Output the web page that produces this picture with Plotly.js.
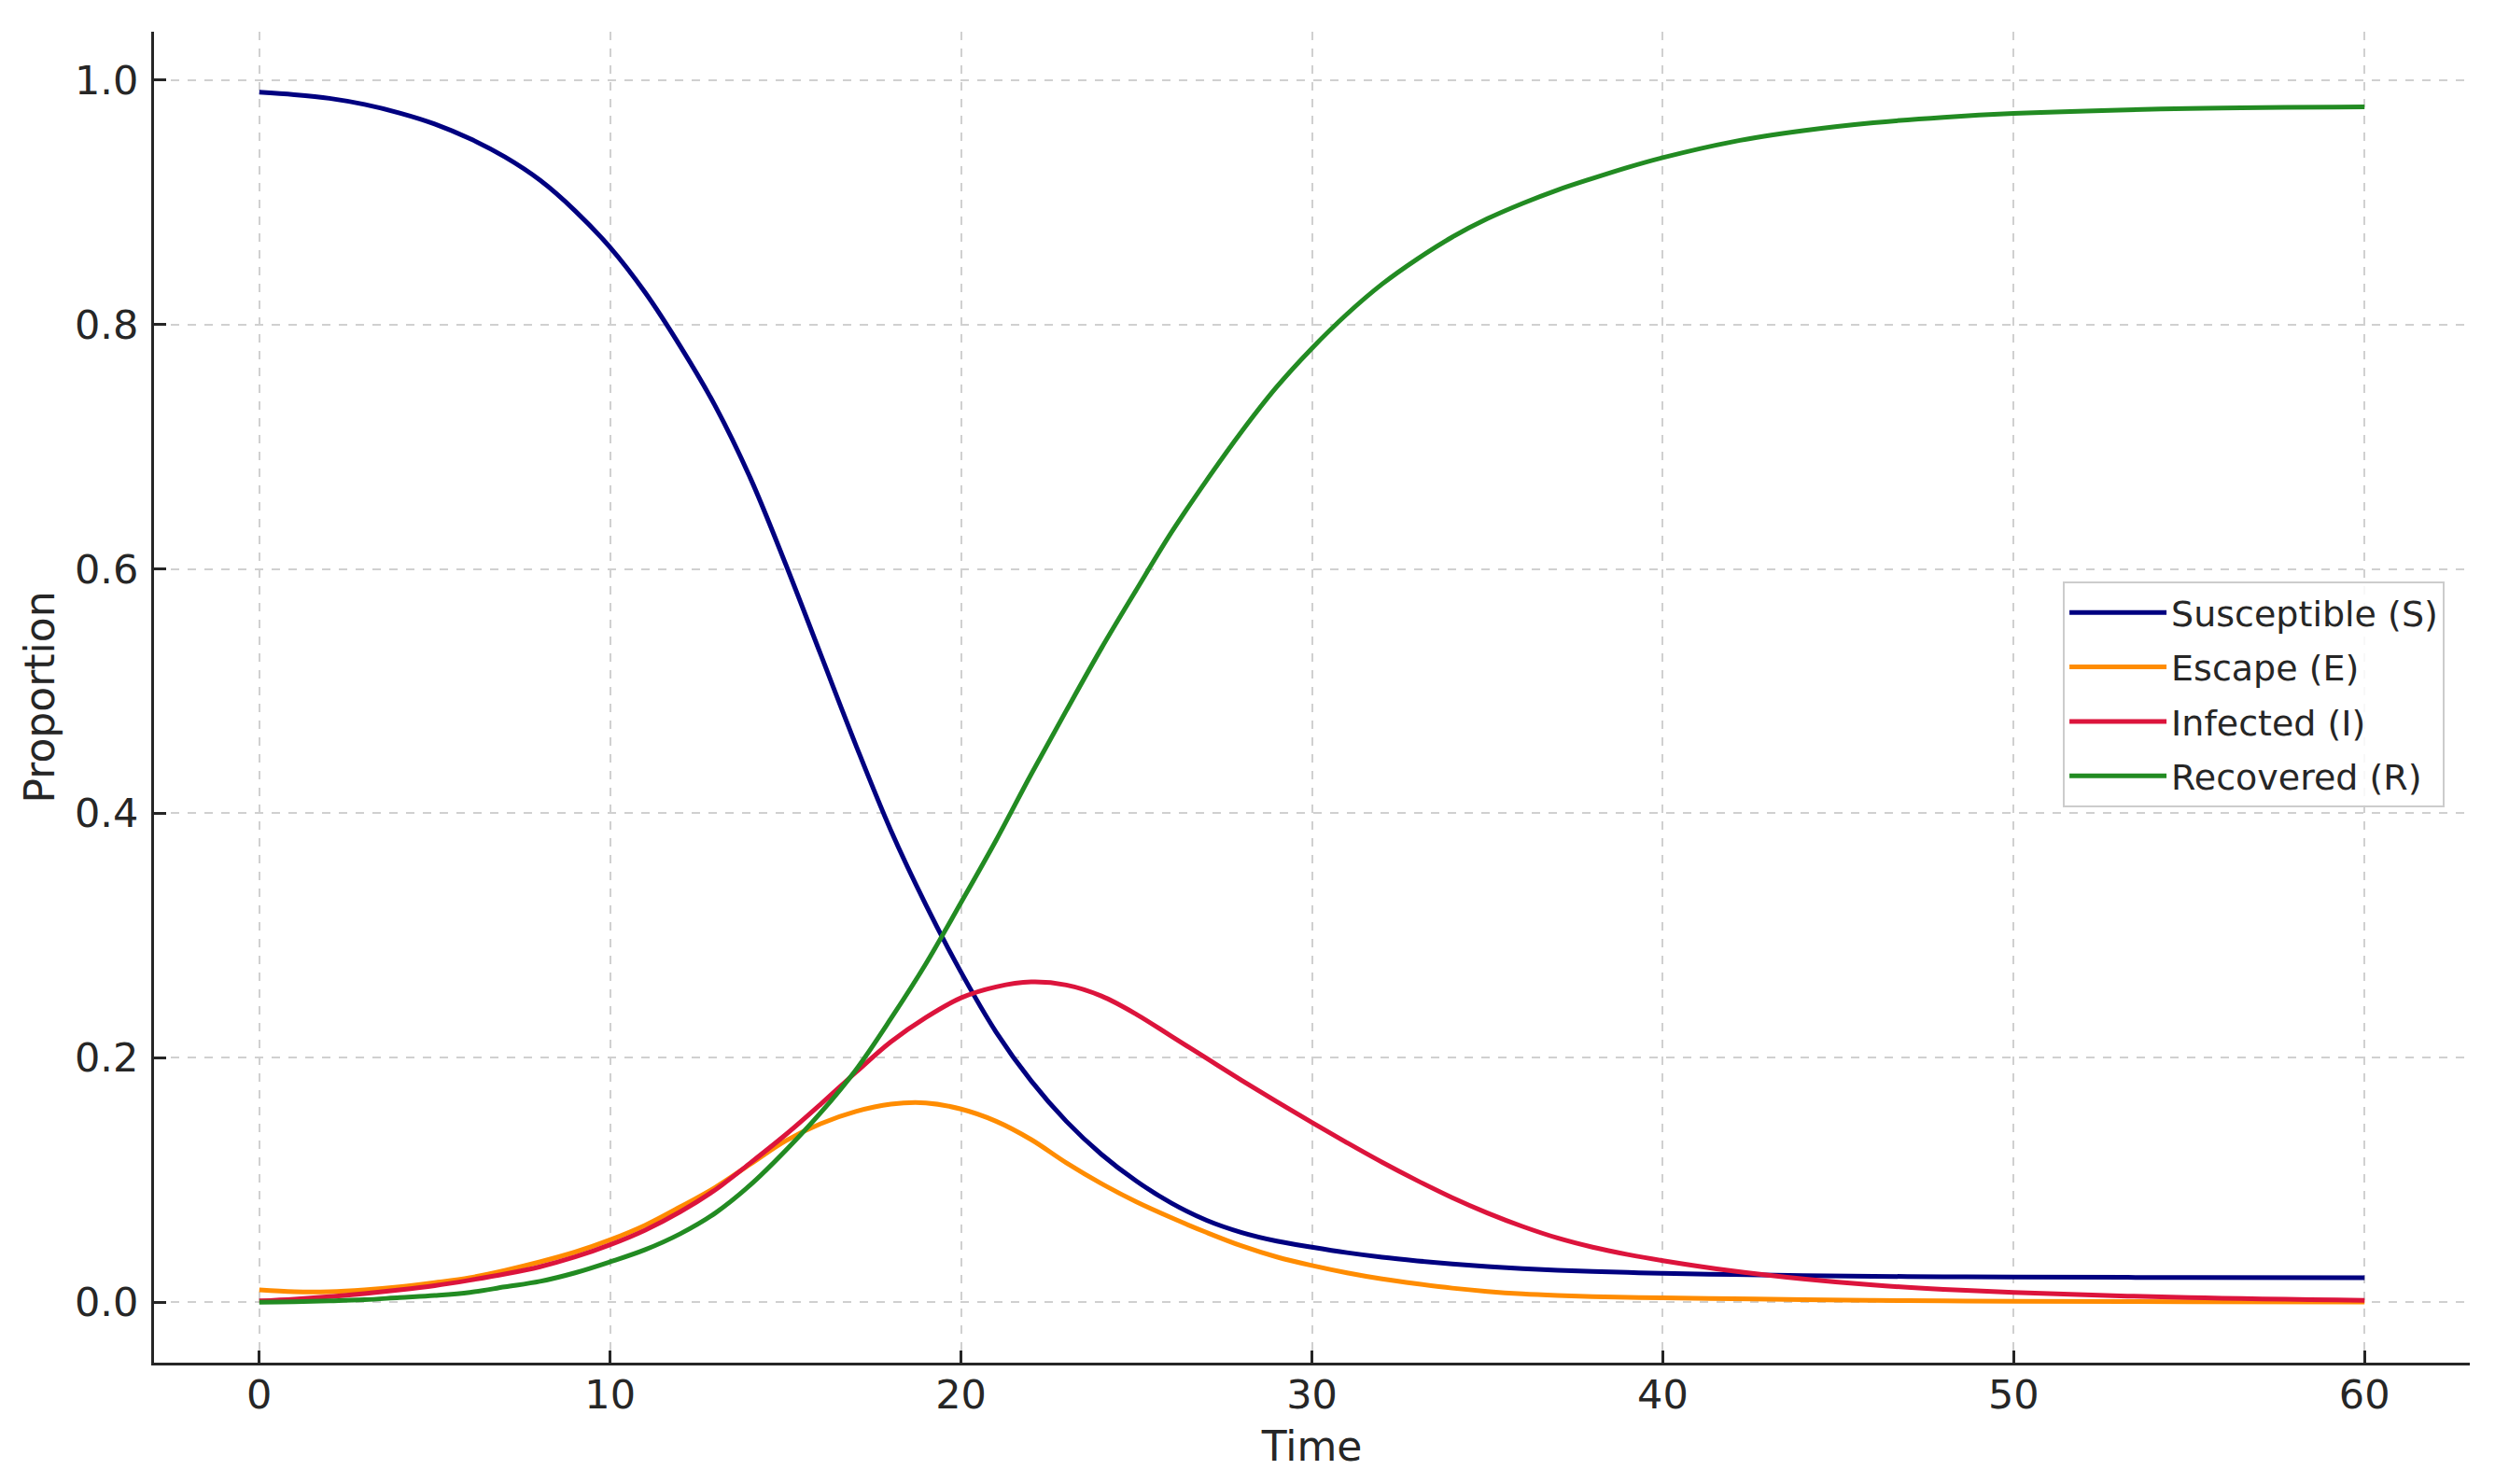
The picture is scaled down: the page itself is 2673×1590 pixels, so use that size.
<!DOCTYPE html>
<html>
<head>
<meta charset="utf-8">
<script src="https://cdn.plot.ly/plotly-3.0.1.min.js"></script>
<style>html,body{margin:0;padding:0;background:#fff;}#chart{width:2673px;height:1590px;}</style>
</head>
<body>
<div id="chart"></div>
<script>
const time = [0,1,2,3,4,5,6,7,8,9,10,11,12,13,14,15,16,17,18,19,20,21,22,23,24,25,26,27,28,29,30,31,32,33,34,35,36,37,38,39,40,42,44,46,48,50,55,60];
const susceptible = [0.990,0.988,0.985,0.980,0.973,0.964,0.952,0.937,0.918,0.893,0.863,0.826,0.782,0.733,0.674,0.604,0.530,0.456,0.386,0.325,0.270,0.221,0.181,0.148,0.121,0.099,0.081,0.067,0.057,0.050,0.045,0.0405,0.0368,0.0338,0.0312,0.0291,0.0274,0.0261,0.0251,0.0243,0.0236,0.0226,0.0218,0.0212,0.0208,0.0205,0.0202,0.020];
const escape = [0.010,0.0085,0.0085,0.010,0.0125,0.016,0.020,0.026,0.033,0.041,0.051,0.063,0.078,0.094,0.113,0.132,0.146,0.156,0.162,0.163,0.158,0.148,0.133,0.114,0.097,0.082,0.069,0.057,0.046,0.037,0.030,0.024,0.019,0.015,0.0115,0.0088,0.0068,0.0055,0.0046,0.0040,0.0036,0.0028,0.0020,0.0015,0.0011,0.0008,0.0004,0.0002];
const infected = [0.001,0.0025,0.0045,0.007,0.010,0.0135,0.018,0.023,0.029,0.037,0.047,0.059,0.074,0.092,0.114,0.137,0.162,0.188,0.213,0.233,0.249,0.258,0.262,0.2595,0.2505,0.2355,0.2175,0.1995,0.1815,0.164,0.147,0.1305,0.1145,0.0995,0.0855,0.073,0.062,0.0525,0.045,0.039,0.034,0.0255,0.019,0.014,0.0105,0.008,0.0037,0.0015];
const recovered = [0.000,0.0003,0.001,0.002,0.0038,0.0055,0.008,0.0125,0.017,0.024,0.033,0.043,0.056,0.073,0.096,0.124,0.155,0.190,0.232,0.277,0.327,0.378,0.432,0.484,0.535,0.583,0.630,0.6725,0.7125,0.749,0.7805,0.8085,0.833,0.8535,0.8715,0.8865,0.899,0.910,0.9195,0.9285,0.9365,0.9495,0.9585,0.965,0.9695,0.9726,0.9766,0.978];
const seriesNames = ["Susceptible (S)","Escape (E)","Infected (I)","Recovered (R)"];
const xTicks = [0,10,20,30,40,50,60];
const yTicks = [0.0,0.2,0.4,0.6,0.8,1.0];

const colors = ["#000080","#ff8c00","#dc143c","#228b22"];
const ys = [susceptible, escape, infected, recovered];
const traces = ys.map((y,i)=>({
  x: time, y: y, name: seriesNames[i], legendgroup: "g"+i, type: "scatter", mode: "lines",
  line: {color: colors[i], width: 5, shape: "spline", smoothing: 1.0}
}));

const font = {family: "DejaVu Sans, sans-serif", color: "#262626"};
const layout = {
  width: 2673, height: 1590,
  margin: {l: 165, r: 27, t: 34, b: 130, pad: 0},
  paper_bgcolor: "#ffffff", plot_bgcolor: "#ffffff",
  font: Object.assign({size: 44}, font),
  showlegend: true,
  legend: {
    x: 0.8243, y: 0.587, xanchor: "left", yanchor: "top",
    bgcolor: "rgba(255,255,255,0.85)", bordercolor: "#cccccc", borderwidth: 2,
    tracegroupgap: 6, itemwidth: 104,
    font: Object.assign({size: 38}, font)
  },
  xaxis: {
    range: [-3, 63], tickvals: xTicks, ticktext: xTicks.map(String),
    ticks: "inside", ticklen: 13, tickwidth: 3, tickcolor: "#262626",
    showline: true, linecolor: "#262626", linewidth: 3, mirror: false,
    showgrid: true, gridcolor: "#d0d0d0", gridwidth: 2, griddash: "dash",
    zeroline: false, ticklabelstandoff: -6,
    tickfont: Object.assign({size: 43}, font),
    title: {text: "Time", font: Object.assign({size: 44}, font), standoff: 17}
  },
  yaxis: {
    range: [-0.0495, 1.0395], tickvals: yTicks, ticktext: yTicks.map(v=>v.toFixed(1)),
    ticks: "inside", ticklen: 13, tickwidth: 3, tickcolor: "#262626",
    showline: true, linecolor: "#262626", linewidth: 3, mirror: false,
    showgrid: true, gridcolor: "#d0d0d0", gridwidth: 2, griddash: "dash",
    zeroline: false, ticklabelstandoff: 5,
    tickfont: Object.assign({size: 43}, font),
    title: {text: "Proportion", font: Object.assign({size: 44}, font), standoff: 8}
  }
};
Plotly.newPlot("chart", traces, layout, {staticPlot: true, displayModeBar: false});
</script>
</body>
</html>
